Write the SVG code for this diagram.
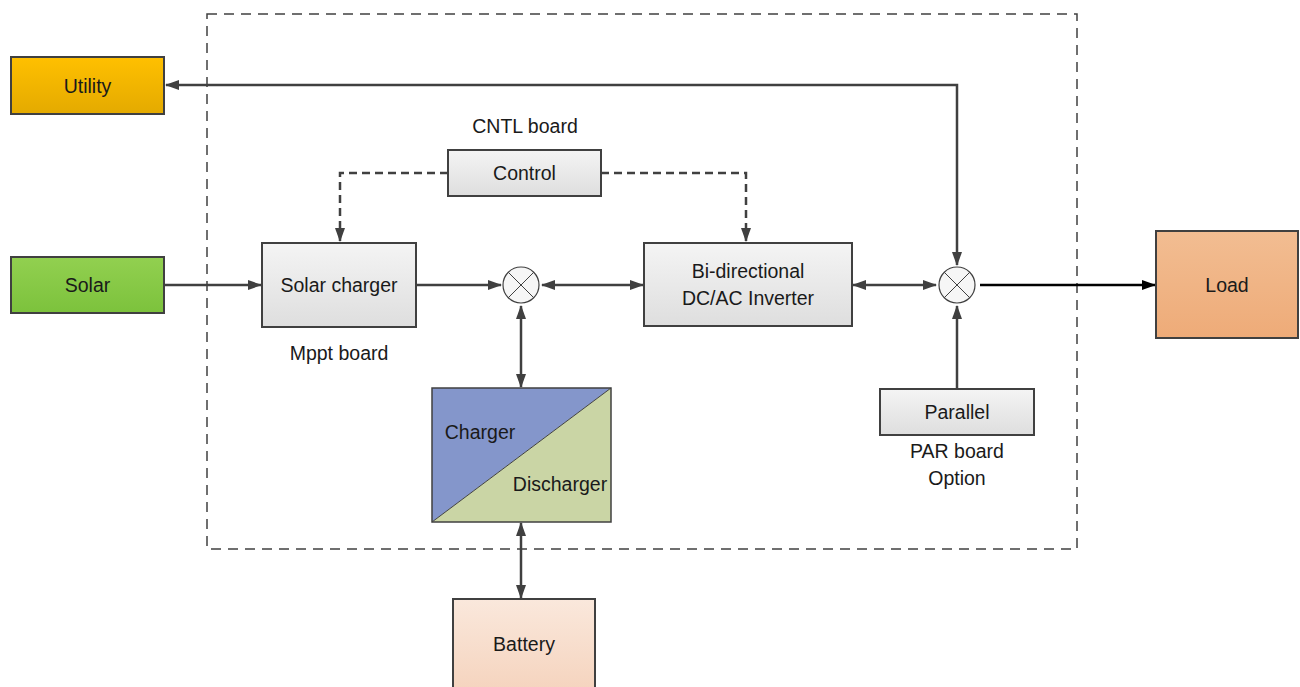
<svg xmlns="http://www.w3.org/2000/svg" width="1300" height="687" viewBox="0 0 1300 687">
<style>
text{font-family:"Liberation Sans","Open Sans",sans-serif;font-size:19.5px;fill:#1a1a1a;text-anchor:middle;dominant-baseline:central}
.box{stroke:#404040;stroke-width:2}
.ln{stroke:#404040;stroke-width:2.5;fill:none}
.dl{stroke:#404040;stroke-width:2.5;fill:none;stroke-dasharray:8 5}
</style>
<defs>
<linearGradient id="gGray" x1="0" y1="0" x2="0" y2="1"><stop offset="0" stop-color="#f4f4f4"/><stop offset="1" stop-color="#dedede"/></linearGradient>
<linearGradient id="gUtil" x1="0" y1="0" x2="0" y2="1"><stop offset="0" stop-color="#ffc000"/><stop offset="1" stop-color="#e4aa00"/></linearGradient>
<linearGradient id="gSolar" x1="0" y1="0" x2="0" y2="1"><stop offset="0" stop-color="#92d050"/><stop offset="1" stop-color="#7cc23c"/></linearGradient>
<linearGradient id="gLoad" x1="0" y1="0" x2="0" y2="1"><stop offset="0" stop-color="#f2bd92"/><stop offset="1" stop-color="#eeab78"/></linearGradient>
<linearGradient id="gBat" x1="0" y1="0" x2="0" y2="1"><stop offset="0" stop-color="#fae8dc"/><stop offset="1" stop-color="#f5d3bd"/></linearGradient>
<marker id="ah" viewBox="0 0 14 10" refX="13" refY="5" markerWidth="14" markerHeight="10" markerUnits="userSpaceOnUse" orient="auto-start-reverse"><path d="M0,0 L14,5 L0,10 z" fill="#404040"/></marker>
<marker id="ahk" viewBox="0 0 14 10" refX="13" refY="5" markerWidth="14" markerHeight="10" markerUnits="userSpaceOnUse" orient="auto"><path d="M0,0 L14,5 L0,10 z" fill="#000"/></marker>
</defs>
<rect x="207" y="14" width="870" height="535" fill="none" stroke="#404040" stroke-width="1.5" stroke-dasharray="10 7"/>
<g id="connectors">
<path class="ln" d="M957,265 V85 H166" marker-start="url(#ah)" marker-end="url(#ah)"/>
<path class="dl" d="M448,173 H340 V241" marker-end="url(#ah)"/>
<path class="dl" d="M601,173 H746 V241" marker-end="url(#ah)"/>
<path class="ln" d="M164,285 H261" marker-end="url(#ah)"/>
<path class="ln" d="M416,285 H501" marker-end="url(#ah)"/>
<path class="ln" d="M542,285 H643" marker-start="url(#ah)" marker-end="url(#ah)"/>
<path class="ln" d="M521,306 V387" marker-start="url(#ah)" marker-end="url(#ah)"/>
<path class="ln" d="M853,285 H936" marker-start="url(#ah)" marker-end="url(#ah)"/>
<path d="M980,285 H1155" stroke="#000" stroke-width="2.5" fill="none" marker-end="url(#ahk)"/>
<path class="ln" d="M957,389 V306" marker-end="url(#ah)"/>
<path class="ln" d="M521,523 V598" marker-start="url(#ah)" marker-end="url(#ah)"/>
</g>
<g id="utility"><rect class="box" x="11" y="57" width="153" height="57" fill="url(#gUtil)"/><text x="87.5" y="85.5">Utility</text></g>
<g id="solar"><rect class="box" x="11" y="257" width="153" height="56" fill="url(#gSolar)"/><text x="87.5" y="285">Solar</text></g>
<g id="solar-charger"><rect class="box" x="262" y="243" width="154" height="84" fill="url(#gGray)"/><text x="339" y="285">Solar charger</text><text x="339" y="353">Mppt board</text></g>
<g id="control"><rect class="box" x="448" y="150" width="153" height="46" fill="url(#gGray)"/><text x="524.5" y="173">Control</text><text x="525" y="126">CNTL board</text></g>
<g id="mix1"><circle cx="521" cy="285" r="18" fill="#f6f6f6" stroke="#404040" stroke-width="1.2"/><path d="M508.3,272.3 L533.7,297.7 M533.7,272.3 L508.3,297.7" stroke="#404040" stroke-width="1"/></g>
<g id="inverter"><rect class="box" x="644" y="243" width="208" height="83" fill="url(#gGray)"/><text x="748" y="271">Bi-directional</text><text x="748" y="298">DC/AC Inverter</text></g>
<g id="mix2"><circle cx="957" cy="285" r="18" fill="#f6f6f6" stroke="#404040" stroke-width="1.2"/><path d="M944.3,272.3 L969.7,297.7 M969.7,272.3 L944.3,297.7" stroke="#404040" stroke-width="1"/></g>
<g id="load"><rect class="box" x="1156" y="231" width="142" height="107" fill="url(#gLoad)"/><text x="1227" y="284.5">Load</text></g>
<g id="charger"><polygon points="432,388 611,388 432,522" fill="#8496cb"/><polygon points="611,388 611,522 432,522" fill="#cad5a5"/><line x1="432" y1="522" x2="611" y2="388" stroke="#404040" stroke-width="1"/><rect x="432" y="388" width="179" height="134" fill="none" stroke="#404040" stroke-width="1.5"/><text x="480" y="432">Charger</text><text x="560" y="484">Discharger</text></g>
<g id="battery"><rect class="box" x="453" y="599" width="142" height="95" fill="url(#gBat)"/><text x="524" y="644">Battery</text></g>
<g id="parallel"><rect class="box" x="880" y="389" width="154" height="46" fill="url(#gGray)"/><text x="957" y="412">Parallel</text><text x="957" y="451">PAR board</text><text x="957" y="478">Option</text></g>
</svg>
